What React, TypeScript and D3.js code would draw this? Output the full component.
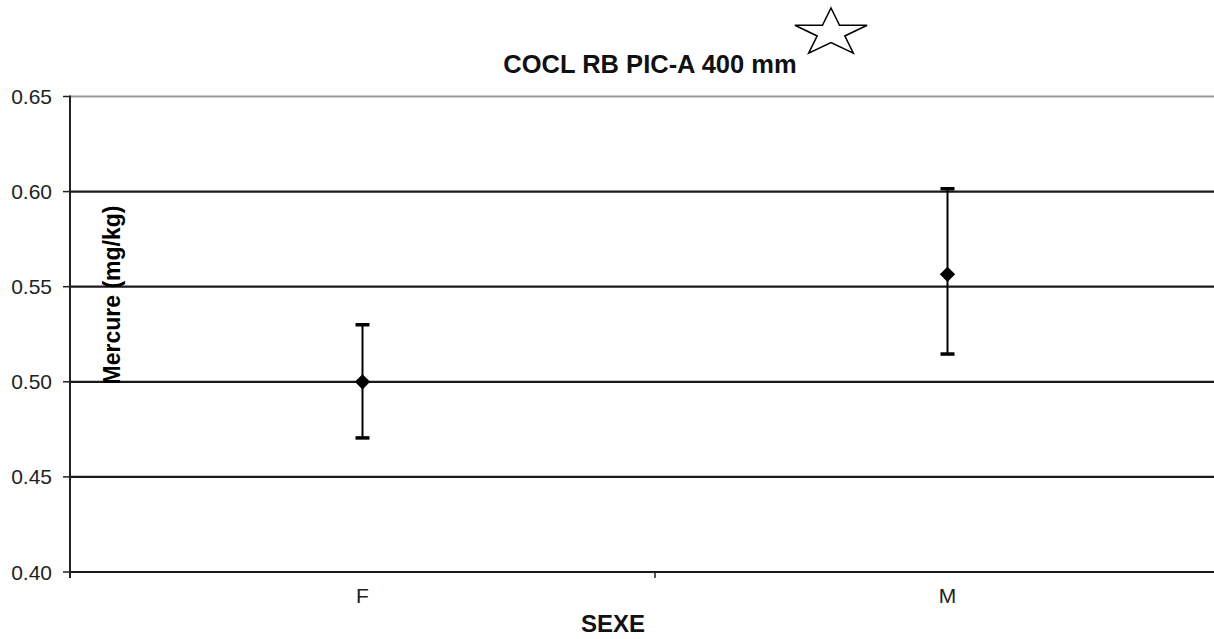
import React from 'react';
import * as d3 from 'd3';

const WIDTH = 1214;
const HEIGHT = 639;
const MARGIN = { top: 96.5, left: 70, bottom: 572, right: 1240 };

// values
const categories = ['F', 'M'];
const means = [0.5, 0.5565];
const upper = [0.53, 0.6015];
const lower = [0.4705, 0.5146];
const yTicks = [0.4, 0.45, 0.5, 0.55, 0.6, 0.65];

const TITLE = 'COCL RB PIC-A 400 mm';
const Y_LABEL = 'Mercure (mg/kg)';
const X_LABEL = 'SEXE';
const FONT = '"Liberation Sans", Arial, sans-serif';

/**
 * Five pointed outline star, squashed vertically
 */
function starPath(cx: number, cy: number, sx: number, sy: number) {
  const pts: [number, number][] = [];
  for (let i = 0; i < 10; i++) {
    const r = i % 2 === 0 ? 1 : 0.382;
    const a = -Math.PI / 2 + (i * Math.PI) / 5;
    pts.push([cx + Math.cos(a) * r * sx, cy + Math.sin(a) * r * sy]);
  }
  return d3.line()(pts) + 'Z';
}

export default function App() {
  const y = d3.scaleLinear().domain([0.4, 0.65]).range([MARGIN.bottom, MARGIN.top]);
  const x = d3.scaleBand().domain(categories).range([MARGIN.left, MARGIN.right]);
  const cx = (c: string) => (x(c) as number) + x.bandwidth() / 2;
  const fmt = d3.format('.2f');
  const diamond = d3.symbol().type(d3.symbolDiamond2).size(150)();

  // band boundaries for the x ticks
  const boundaries = categories.slice(1).map((c) => x(c) as number);

  return (
    <svg width={WIDTH} height={HEIGHT} style={{ position: 'absolute', left: 0, top: 0, background: '#fff' }}>
      <rect width={WIDTH} height={HEIGHT} fill="#fff" />

      {/* grid lines */}
      {yTicks.map((t) => (
        <line
          key={t}
          x1={MARGIN.left}
          x2={MARGIN.right}
          y1={y(t)}
          y2={y(t)}
          stroke={t === 0.65 ? '#999' : '#1a1a1a'}
          strokeWidth={2.2}
        />
      ))}

      {/* y axis */}
      <line x1={MARGIN.left} x2={MARGIN.left} y1={y(0.65) - 1} y2={MARGIN.bottom + 6} stroke="#222" strokeWidth={2} />
      {yTicks.map((t) => (
        <g key={t}>
          <line x1={MARGIN.left - 7} x2={MARGIN.left} y1={y(t)} y2={y(t)} stroke="#222" strokeWidth={1.5} />
          <text x={52} y={y(t)} dy="0.36em" textAnchor="end" fontFamily={FONT} fontSize={21} fill="#222">
            {fmt(t)}
          </text>
        </g>
      ))}

      {/* x axis ticks and labels */}
      {boundaries.map((b) => (
        <line key={b} x1={b} x2={b} y1={MARGIN.bottom} y2={MARGIN.bottom + 6} stroke="#222" strokeWidth={1.5} />
      ))}
      {categories.map((c) => (
        <text key={c} x={cx(c)} y={603} textAnchor="middle" fontFamily={FONT} fontSize={21} fill="#222">
          {c}
        </text>
      ))}

      {/* error bars */}
      {categories.map((c, i) => (
        <g key={c}>
          <line x1={cx(c)} x2={cx(c)} y1={y(upper[i])} y2={y(lower[i])} stroke="#000" strokeWidth={2} />
          <line x1={cx(c) - 7} x2={cx(c) + 7} y1={y(upper[i])} y2={y(upper[i])} stroke="#000" strokeWidth={3.5} />
          <line x1={cx(c) - 7} x2={cx(c) + 7} y1={y(lower[i])} y2={y(lower[i])} stroke="#000" strokeWidth={3.5} />
          <path d={diamond as string} transform={`translate(${cx(c)},${y(means[i])})`} fill="#000" />
        </g>
      ))}

      {/* titles */}
      <text x={650} y={73} textAnchor="middle" fontFamily={FONT} fontWeight="bold" fontSize={25.5} fill="#111">
        {TITLE}
      </text>
      <text
        transform={`translate(120,295) rotate(-90)`}
        textAnchor="middle"
        fontFamily={FONT}
        fontWeight="bold"
        fontSize={23}
        fill="#000"
      >
        {Y_LABEL}
      </text>
      <text x={613} y={632} textAnchor="middle" fontFamily={FONT} fontWeight="bold" fontSize={24} fill="#111">
        {X_LABEL}
      </text>

      <path d={starPath(831, 33, 38, 25)} fill="#fff" stroke="#000" strokeWidth={1.5} />
    </svg>
  );
}
